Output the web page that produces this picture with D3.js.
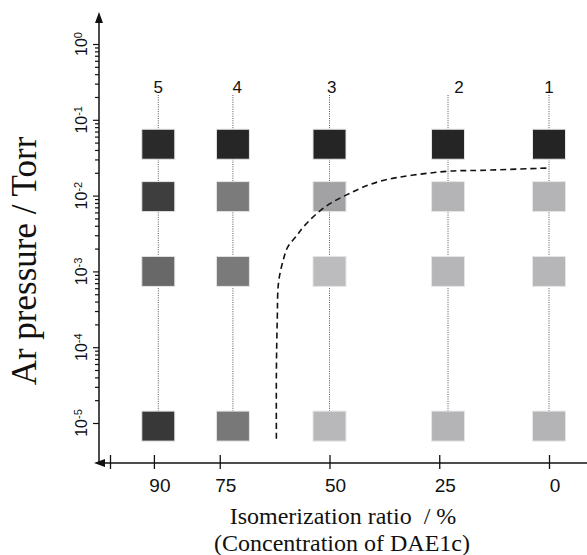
<!DOCTYPE html>
<html><head><meta charset="utf-8">
<script src="https://cdn.jsdelivr.net/npm/d3@7"></script>
<style>body{margin:0;background:#fff}svg{display:block}</style>
</head><body>
<svg id="c" width="587" height="555"></svg>
<script>
// ---- data ----
const columnLabels = ["1", "2", "3", "4", "5"];
const columnRatios = [0, 23, 50, 72, 89];          // isomerization ratio of each sample column (%)
const labelRatios  = [0, 20.5, 49.5, 71, 89];      // where each column number is written
const rowPressures = [4.76e-2, 9.7e-3, 1.0e-3, 9.1e-6]; // Ar pressure of each row (Torr)
// gray level of each square: rows (top→bottom) × columns (1..5)
const squareGrays = [
  ["#242424", "#252525", "#252525", "#262626", "#2a2a2a"],
  ["#b4b4b6", "#b4b4b6", "#a2a2a4", "#7b7b7b", "#3e3e3e"],
  ["#b6b6b8", "#b6b6b8", "#bcbcbe", "#7a7a7a", "#686868"],
  ["#b4b4b6", "#b4b4b6", "#b8b8ba", "#787878", "#383838"]
];
const xTickValues = [100, 90, 75, 50, 25, 0];
const xTickLabels = ["", "90", "75", "50", "25", "0"];
const yMajorTicks = [1e-5, 1e-4, 1e-3, 1e-2, 1e-1, 1];
const yTickExponents = ["-5", "-4", "-3", "-2", "-1", "0"];
// dashed boundary curve
const boundaryRatio    = [62.1, 62.1, 61.9, 61.6, 60.5, 59.5, 57.6, 55.8, 51.3, 46.0, 38.4, 23.3, 15.7, 0.2];
const boundaryPressure = [6.2e-6, 4.7e-5, 2.3e-4, 7.2e-4, 1.44e-3, 2.1e-3, 2.9e-3, 3.95e-3, 6.9e-3, 1.03e-2, 1.55e-2, 2.09e-2, 2.15e-2, 2.31e-2];

// ---- drawing ----
const svg = d3.select("#c");
const x = d3.scaleLinear().domain([100, 0]).range([110, 549]);
const y = d3.scaleLog().domain([1e-5, 1]).range([423, 44]);

const axisX = x(100) - 11;   // vertical axis position
const axisY = 463;           // horizontal axis position

// dotted column guides
columnRatios.forEach((r, i) => {
  svg.append("line")
    .attr("x1", x(r)).attr("x2", x(r))
    .attr("y1", 95).attr("y2", y(rowPressures[rowPressures.length - 1]))
    .attr("stroke", "#555").attr("stroke-width", 1)
    .attr("stroke-dasharray", "1,1.3");
});

// column numbers
svg.append("g").selectAll("text").data(columnLabels).join("text")
  .attr("x", (d, i) => x(labelRatios[i]))
  .attr("y", 93)
  .attr("text-anchor", "middle")
  .attr("font-family", "Liberation Sans, Arial, sans-serif")
  .attr("font-size", 17)
  .attr("fill", "#111")
  .text(d => d);

// squares
const cells = [];
rowPressures.forEach((p, ri) => columnRatios.forEach((r, ci) => cells.push({p, r, c: squareGrays[ri][ci]})));
const sw = 33, sh = 30;
svg.append("g").selectAll("rect").data(cells).join("rect")
  .attr("x", d => x(d.r) - sw / 2)
  .attr("y", d => y(d.p) - sh / 2)
  .attr("width", sw).attr("height", sh)
  .attr("fill", d => d.c)
  .attr("stroke", "#e6e6e6").attr("stroke-width", 1);

// dashed boundary
const pts = boundaryRatio.map((r, i) => [r, boundaryPressure[i]]);
svg.append("path")
  .attr("d", d3.line().x(d => x(d[0])).y(d => y(d[1])).curve(d3.curveCatmullRom.alpha(0.5))(pts))
  .attr("fill", "none").attr("stroke", "#111").attr("stroke-width", 1.6)
  .attr("stroke-dasharray", "6,4");

// y axis
const minor = y.ticks().filter(v => !yMajorTicks.some(m => Math.abs(m - v) / m < 1e-6));
const gMinor = svg.append("g").attr("transform", `translate(${axisX},0)`)
  .call(d3.axisLeft(y).tickValues(minor).tickSize(4).tickFormat(""));
gMinor.select(".domain").remove();
const gMajor = svg.append("g").attr("transform", `translate(${axisX},0)`)
  .call(d3.axisLeft(y).tickValues(yMajorTicks).tickSize(6).tickFormat(""));
gMajor.select(".domain").remove();
svg.selectAll(".tick line").attr("stroke", "#111").attr("stroke-width", 1.2);

svg.append("line").attr("x1", axisX).attr("x2", axisX).attr("y1", 20).attr("y2", axisY)
  .attr("stroke", "#111").attr("stroke-width", 1.5);
svg.append("path")
  .attr("d", `M${axisX},12 L${axisX - 4},23 L${axisX + 4},23 Z`).attr("fill", "#111");

// y tick labels
yMajorTicks.forEach((v, i) => {
  const t = svg.append("text")
    .attr("transform", `translate(87,${y(v)}) rotate(-90)`)
    .attr("text-anchor", "middle")
    .attr("font-family", "Liberation Sans, Arial, sans-serif")
    .attr("font-size", 16).attr("fill", "#111");
  t.append("tspan").text("10");
  t.append("tspan").attr("dy", "-0.5em").attr("font-size", 11).text(yTickExponents[i]);
});

// y title
svg.append("text")
  .attr("transform", `translate(36,261) rotate(-90)`)
  .attr("text-anchor", "middle")
  .attr("font-family", "Liberation Serif, Times New Roman, serif")
  .attr("font-size", 35).attr("fill", "#111")
  .text("Ar pressure / Torr");

// x axis
svg.append("line").attr("x1", 100).attr("x2", 587).attr("y1", axisY).attr("y2", axisY)
  .attr("stroke", "#111").attr("stroke-width", 1.5);
svg.append("path")
  .attr("d", `M94,${axisY} L105,${axisY - 4} L105,${axisY + 4} Z`).attr("fill", "#111");
const gx = svg.append("g").attr("transform", `translate(0,${axisY})`)
  .call(d3.axisBottom(x).tickValues(xTickValues).tickSize(0).tickFormat(""));
gx.select(".domain").remove();
gx.selectAll(".tick line").attr("y1", -8).attr("y2", 6).attr("stroke", "#111").attr("stroke-width", 1.3);
svg.append("g").selectAll("text").data(xTickValues).join("text")
  .attr("x", d => x(d) + 6)
  .attr("y", 492)
  .attr("text-anchor", "middle")
  .attr("font-family", "Liberation Sans, Arial, sans-serif")
  .attr("font-size", 19).attr("fill", "#111")
  .text((d, i) => xTickLabels[i]);

// x title
svg.append("text")
  .attr("x", 343).attr("y", 524)
  .attr("text-anchor", "middle").style("white-space", "pre")
  .attr("font-family", "Liberation Serif, Times New Roman, serif")
  .attr("font-size", 24).attr("fill", "#111")
  .text("Isomerization ratio  / %");
svg.append("text")
  .attr("x", 342).attr("y", 551)
  .attr("text-anchor", "middle")
  .attr("font-family", "Liberation Serif, Times New Roman, serif")
  .attr("font-size", 24).attr("fill", "#111")
  .text("(Concentration of DAE1c)");
</script>
</body></html>
